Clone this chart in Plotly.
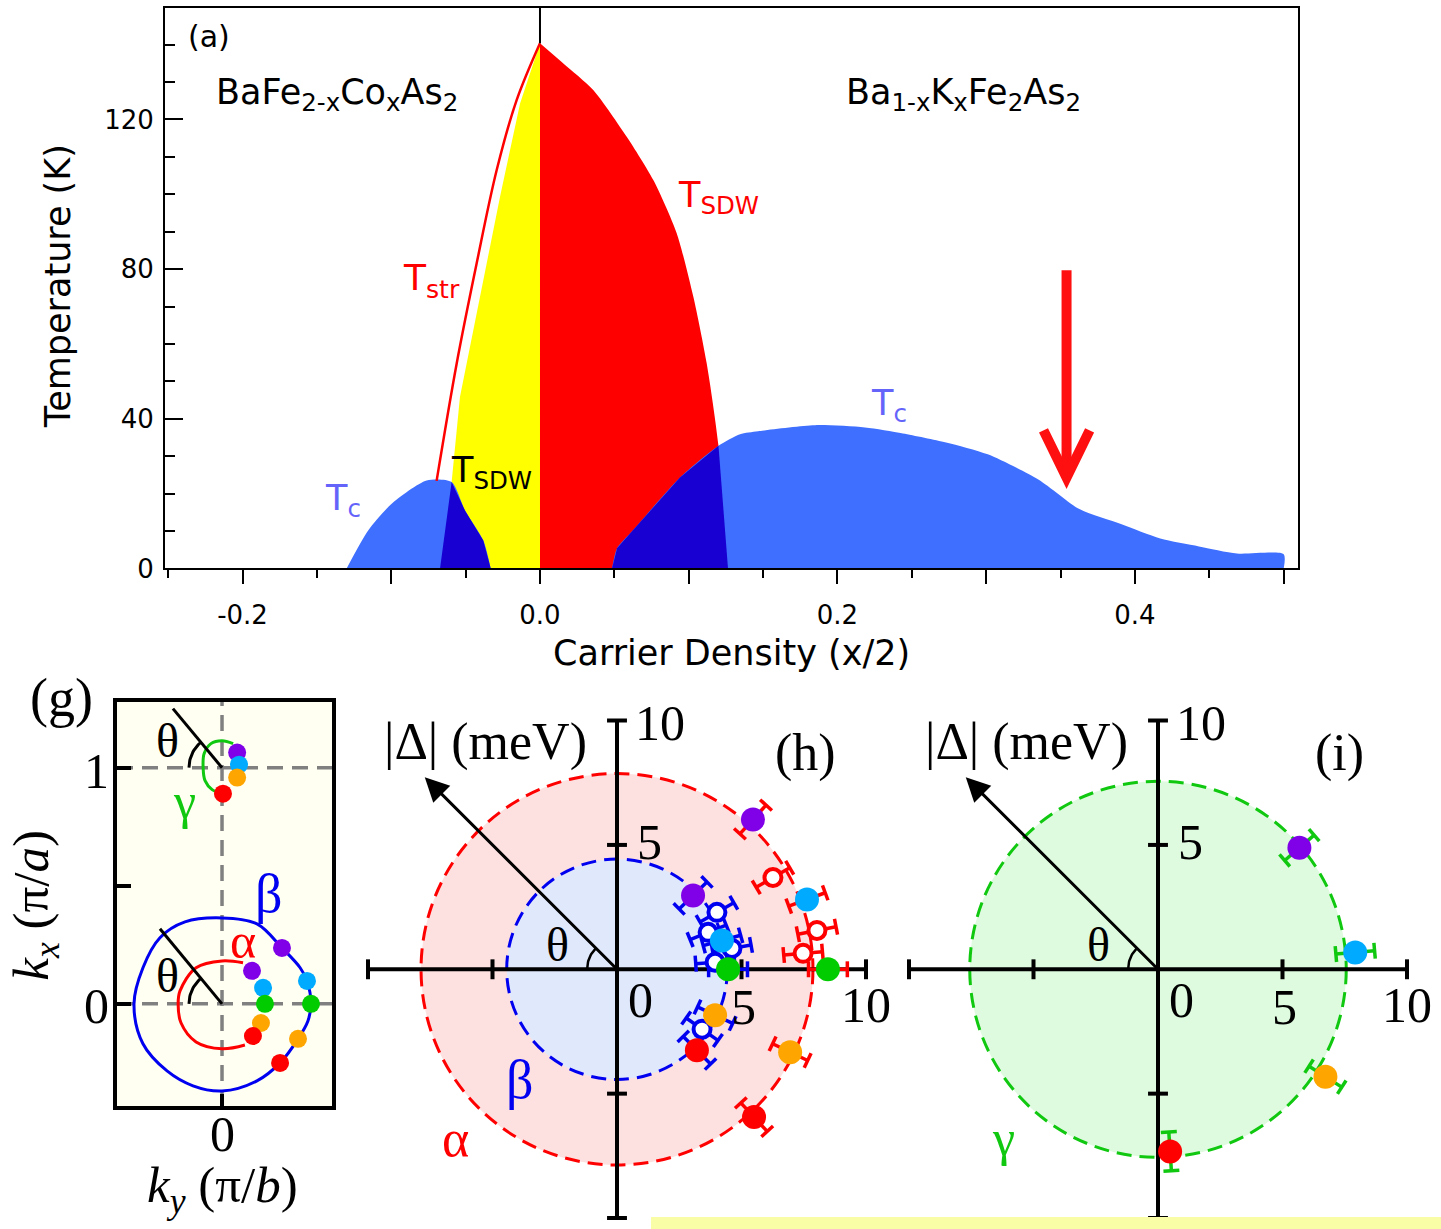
import numpy as np
import plotly.graph_objects as go

W, H = 1441, 1229          # design grid in pixels
H_LAYOUT = 1245            # figure height handed to plotly
SANS = "DejaVu Sans"
SERIF = "Liberation Serif"

RED = "#FF0000"
YELLOW = "#FFFF00"
LBLUE = "#3F6FFF"
DBLUE = "#1800D2"
TCCOL = "#6464FA"
PURPLE = "#8000E8"
CYAN = "#00AAFF"
GREEN = "#00CC00"
ORANGE = "#FFA500"
BLUE = "#0000F0"
GAMMA_GREEN = "#10C810"

# ---------------- (a) phase diagram: carrier density (x/2) vs T (K) ----------------
# Ba1-xKxFe2As2 side (hole doping, x/2 > 0)
sdw_k_x = [0.0, 0.0157, 0.0358, 0.0583, 0.0762, 0.0919, 0.1031, 0.1121, 0.1200, 0.1264]
sdw_k_T = [140.4, 135.0, 127.9, 115.4, 103.8, 89.6, 72.6, 54.8, 32.8, 0.0]
tc_k_x = [0.0484, 0.0518, 0.0625, 0.0941, 0.1200, 0.1345, 0.1466, 0.1849, 0.2185, 0.244,
          0.273, 0.301, 0.335, 0.363, 0.391, 0.417, 0.443, 0.4686, 0.500]
tc_k_T = [0.0, 5.4, 10.2, 24.3, 32.8, 35.9, 36.7, 38.3, 37.7, 36.1,
          33.7, 30.5, 23.8, 15.8, 11.8, 8.0, 5.9, 4.0, 3.8]

# BaFe2-xCoxAs2 side (electron doping, plotted at negative x/2)
tstr_co_x = [0.0, -0.0157, -0.0291, -0.0426, -0.0560, -0.0695]
tstr_co_T = [140.4, 125.2, 106.5, 81.5, 54.8, 23.4]
sdw_co_x = [0.0, -0.0134, -0.0269, -0.0403, -0.0538, -0.0594, -0.0672]
sdw_co_T = [140.4, 124.3, 99.3, 72.6, 45.8, 23.1, 0.0]
tc_co_x = [-0.130, -0.1154, -0.0997, -0.0762, -0.0594, -0.0504, -0.0381, -0.0331]
tc_co_T = [0.0, 10.2, 17.3, 23.5, 23.1, 15.5, 7.5, 0.0]

arrow_x = 0.354          # doping marked by the red arrow
arrow_T = [79.7, 24.3]   # shaft top, tip

# ---------------- (g) Fermi surface contours (ky, kx) ----------------
beta_fs_ky = [0.377, 0.360, 0.331, 0.254, 0.148, 0.0, -0.157, -0.263, -0.335, -0.373,
              -0.335, -0.233, -0.123, 0.0, 0.148, 0.246, 0.322, 0.364, 0.377]
beta_fs_kx = [0.0, 0.097, 0.153, 0.237, 0.339, 0.364, 0.347, 0.280, 0.153, 0.0,
              -0.169, -0.284, -0.347, -0.369, -0.326, -0.250, -0.148, -0.072, 0.0]
alpha_fs_ky = [0.089, 0.0, -0.110, -0.178, -0.186, -0.174, -0.110, 0.0, 0.097]
alpha_fs_kx = [0.174, 0.182, 0.153, 0.055, 0.0, -0.080, -0.161, -0.190, -0.174]
gamma_fs_ky = [0.047, 0.0, -0.047, -0.076, -0.080, -0.072, -0.042, 0.0]
gamma_fs_kx = [1.102, 1.114, 1.102, 1.059, 1.0, 0.945, 0.907, 0.890]

# measured k-points on each sheet
alpha_k_ky = [0.127, 0.174, 0.182, 0.165, 0.131]
alpha_k_kx = [0.140, 0.068, 0.0, -0.081, -0.136]
beta_k_ky = [0.254, 0.360, 0.377, 0.322, 0.246]
beta_k_kx = [0.237, 0.097, 0.0, -0.148, -0.250]
gamma_k_ky = [0.064, 0.072, 0.064, 0.004]
gamma_k_kx = [1.064, 1.013, 0.958, 0.890]

# ---------------- (h), (i) superconducting gap |Delta| vs FS angle theta ----------------
alpha_fill_theta = [47.8, 20.2, 0.0, -25.6, -47.2]
alpha_fill_gap = [8.13, 8.13, 8.47, 7.71, 8.10]
alpha_open_theta = [30.5, 11.0, 4.9]
alpha_open_gap = [7.27, 8.18, 7.50]
beta_fill_theta = [44.2, 15.4, 0.0, -25.1, -45.4]
beta_fill_gap = [4.26, 4.37, 4.46, 4.35, 4.57]
beta_open_theta = [29.7, 22.1, 10.3, 4.1, -35.2]
beta_open_gap = [4.62, 3.95, 4.69, 3.95, 4.18]
gamma_fill_theta = [40.7, 4.9, -32.7, -86.2]
gamma_fill_gap = [7.49, 7.95, 7.99, 7.34]
gap_err = 0.78

alpha_gap_avg = 7.87
beta_gap_avg = 4.43
gamma_gap_avg = 7.56

colors5 = [PURPLE, CYAN, GREEN, ORANGE, RED]
colors4 = [PURPLE, CYAN, ORANGE, RED]


def px(x):
    return x / W


def py(y):
    return 1 - y / H


fig = go.Figure()


def poly(xs, ys, color, xa="x", ya="y", shape="linear"):
    fig.add_trace(go.Scatter(x=list(xs), y=list(ys), mode="lines", fill="toself",
                             fillcolor=color, line=dict(width=0, color=color, shape=shape, smoothing=0.7),
                             hoverinfo="skip", showlegend=False, xaxis=xa, yaxis=ya))


def line(xs, ys, color, width, xa, ya, shape="linear", dash=None):
    fig.add_trace(go.Scatter(x=list(xs), y=list(ys), mode="lines",
                             line=dict(width=width, color=color, shape=shape, dash=dash),
                             hoverinfo="skip", showlegend=False, xaxis=xa, yaxis=ya))


# ---- (a) regions ----
# orthorhombic / SDW phase, Co side
poly(sdw_co_x + [0.0], sdw_co_T + [0.0], YELLOW)
# SDW phase, K side
poly(sdw_k_x + [0.0], sdw_k_T + [0.0], RED, shape="spline")
# superconducting domes
poly(tc_k_x + [tc_k_x[-1]], tc_k_T + [0.0], LBLUE, shape="spline")
poly(tc_co_x, tc_co_T, LBLUE, shape="spline")
# coexistence regions
xk_i, Tk_i = 0.1200, 32.8
dk_x = [x for x in tc_k_x if x <= xk_i] + [x for x, T in zip(sdw_k_x, sdw_k_T) if T < Tk_i]
dk_T = [T for x, T in zip(tc_k_x, tc_k_T) if x <= xk_i] + [T for T in sdw_k_T if T < Tk_i]
poly(dk_x, dk_T, DBLUE)
xc_i, Tc_i = -0.0594, 23.1
dc_x = [x for x in tc_co_x if x >= xc_i] + [x for x, T in zip(sdw_co_x, sdw_co_T) if T < Tc_i]
dc_T = [T for x, T in zip(tc_co_x, tc_co_T) if x >= xc_i] + [T for T in sdw_co_T if T < Tc_i]
poly(dc_x, dc_T, DBLUE)
# structural transition line
line(tstr_co_x, tstr_co_T, RED, 2.5, "x", "y", shape="spline")

# ---- (g) Fermi surface ----
line(beta_fs_ky, beta_fs_kx, BLUE, 3, "x2", "y2", shape="spline")
line(alpha_fs_ky, alpha_fs_kx, RED, 3, "x2", "y2", shape="spline")
line(gamma_fs_ky, gamma_fs_kx, GAMMA_GREEN, 3, "x2", "y2", shape="spline")
# theta definition lines and arcs
line([0, -0.263], [0, 0.318], "black", 3, "x2", "y2")
line([0, -0.208], [1.0, 1.25], "black", 3, "x2", "y2")
arc = np.radians(np.linspace(180, 131, 20))
line(0.14 * np.cos(arc), 0.14 * np.sin(arc), "black", 3, "x2", "y2")
line(0.14 * np.cos(arc), 1.0 + 0.14 * np.sin(arc), "black", 3, "x2", "y2")
for kys, kxs, cols in [(alpha_k_ky, alpha_k_kx, colors5), (beta_k_ky, beta_k_kx, colors5),
                       (gamma_k_ky, gamma_k_kx, colors4)]:
    fig.add_trace(go.Scatter(x=kys, y=kxs, mode="markers",
                             marker=dict(size=18, color=cols, line=dict(width=0)),
                             hoverinfo="skip", showlegend=False, xaxis="x2", yaxis="y2"))


# ---- (h), (i) polar gap plots on cartesian axes ----
def radial_bars(theta_deg, gap, err, cap=0.32):
    xs, ys = [], []
    for t, g in zip(theta_deg, gap):
        c, s = np.cos(np.radians(t)), np.sin(np.radians(t))
        r0, r1 = g - err, g + err
        xs += [r0 * c, r1 * c, None]
        ys += [r0 * s, r1 * s, None]
        for r in (r0, r1):
            xs += [r * c + cap * s, r * c - cap * s, None]
            ys += [r * s - cap * c, r * s + cap * c, None]
    return xs, ys


def to_xy(theta_deg, gap):
    t = np.radians(np.asarray(theta_deg))
    g = np.asarray(gap)
    return g * np.cos(t), g * np.sin(t)


def gap_panel(xa, ya, sets):
    # sets: (theta, gap, error-bar colour, marker colours or None for open symbols)
    for th, gp, ecol, _ in sets:
        bx, by = radial_bars(th, gp, gap_err)
        line(bx, by, ecol, 3.5, xa, ya)
    for th, gp, ecol, mcols in sets:
        x, y = to_xy(th, gp)
        if mcols is None:
            mk = dict(size=17, color="white", line=dict(width=4, color=ecol))
        else:
            mk = dict(size=24, color=mcols, line=dict(width=0))
        fig.add_trace(go.Scatter(x=x, y=y, mode="markers", marker=mk, hoverinfo="skip",
                                 showlegend=False, xaxis=xa, yaxis=ya))
    # theta arc
    a = np.radians(np.linspace(180, 135, 20))
    line(1.2 * np.cos(a), 1.2 * np.sin(a), "black", 2.5, xa, ya)


gap_panel("x3", "y3", [
    (beta_open_theta, beta_open_gap, BLUE, None),
    (beta_fill_theta, beta_fill_gap, BLUE, colors5),
    (alpha_open_theta, alpha_open_gap, RED, None),
    (alpha_fill_theta, alpha_fill_gap, RED, colors5),
])
gap_panel("x4", "y4", [
    (gamma_fill_theta, gamma_fill_gap, GAMMA_GREEN, colors4),
])

# ---------------- shapes ----------------
shapes = []
# (g) background and dashed guide lines
shapes.append(dict(type="rect", xref="x2 domain", yref="y2 domain", x0=0, x1=1, y0=0, y1=1,
                   fillcolor="#FFFFF2", line=dict(width=0), layer="below"))
for x0, x1, y0, y1 in [(0, 0, -0.432, 1.28), (-0.445, 0.466, 0, 0), (-0.445, 0.466, 1, 1)]:
    shapes.append(dict(type="line", xref="x2", yref="y2", x0=x0, x1=x1, y0=y0, y1=y1,
                       line=dict(color="#808080", width=3.5, dash="16px,9px"), layer="below"))

# (a) separator above the SDW maximum, and the arrow
shapes.append(dict(type="line", xref="x", yref="y", x0=0, x1=0, y0=sdw_k_T[0], y1=149.8,
                   line=dict(color="black", width=2)))
shapes.append(dict(type="line", xref="x", yref="y", x0=arrow_x, x1=arrow_x,
                   y0=arrow_T[0], y1=arrow_T[1] + 1.5, line=dict(color="#FF1010", width=10)))
shapes.append(dict(type="path", xref="x", yref="y",
                   path=f"M {arrow_x - 0.0155},{arrow_T[1] + 12.6} L {arrow_x},{arrow_T[1]} "
                        f"L {arrow_x + 0.0155},{arrow_T[1] + 12.6}",
                   line=dict(color="#FF1010", width=10)))

# (h), (i) average-gap circles and the cross axes
for xa, ya, circles in [("x3", "y3", [(alpha_gap_avg, "#FDE0E0", RED), (beta_gap_avg, "#E0E8FC", BLUE)]),
                        ("x4", "y4", [(gamma_gap_avg, "#DFFBDF", GAMMA_GREEN)])]:
    for r, fc, lc in circles:
        shapes.append(dict(type="circle", xref=xa, yref=ya, x0=-r, x1=r, y0=-r, y1=r,
                           fillcolor=fc, line=dict(color=lc, width=3, dash="15px,8px"), layer="below"))
    ax_line = dict(color="black", width=4)
    shapes.append(dict(type="line", xref=xa, yref=ya, x0=-10, x1=10, y0=0, y1=0, line=ax_line, layer="below"))
    shapes.append(dict(type="line", xref=xa, yref=ya, x0=0, x1=0, y0=-10, y1=10, line=ax_line, layer="below"))
    for v in (-10, -5, 5, 10):
        shapes.append(dict(type="line", xref=xa, yref=ya, x0=v, x1=v, y0=-0.4, y1=0.4, line=ax_line, layer="below"))
        shapes.append(dict(type="line", xref=xa, yref=ya, x0=-0.4, x1=0.4, y0=v, y1=v, line=ax_line, layer="below"))

# pale band along the bottom edge
shapes.append(dict(type="rect", xref="paper", yref="paper", x0=px(651), x1=1, y0=-0.05, y1=py(1216),
                   fillcolor="#F9FDA6", line=dict(width=0), layer="above"))

# ---------------- annotations ----------------
ann = []


def text_px(x, y, s, size, color="black", family=SANS, xanchor="center", angle=0):
    ann.append(dict(x=px(x), y=py(y), xref="paper", yref="paper", text=s, showarrow=False,
                    xanchor=xanchor, yanchor="middle", textangle=angle,
                    font=dict(family=family, size=size, color=color)))


def text_d(x, y, s, xa, ya, size, color="black", family=SERIF):
    ann.append(dict(x=x, y=y, xref=xa, yref=ya, text=s, showarrow=False,
                    xanchor="center", yanchor="middle", font=dict(family=family, size=size, color=color)))


# (a)
text_px(209, 36, "(a)", 30)
text_px(214, 94, "BaFe<sub>2-x</sub>Co<sub>x</sub>As<sub>2</sub>", 35, xanchor="left")
text_px(844, 94, "Ba<sub>1-x</sub>K<sub>x</sub>Fe<sub>2</sub>As<sub>2</sub>", 35, xanchor="left")
text_px(401, 280, "T<sub>str</sub>", 36, RED, xanchor="left")
text_px(676, 197, "T<sub>SDW</sub>", 35, RED, xanchor="left")
text_px(449, 472, "T<sub>SDW</sub>", 35, "black", xanchor="left")
text_px(323, 500, "T<sub>c</sub>", 35, TCCOL, xanchor="left")
text_px(869, 405, "T<sub>c</sub>", 35, TCCOL, xanchor="left")
text_px(58, 286, "Temperature (K)", 35, angle=-90)
text_px(731, 652, "Carrier Density (x/2)", 35)

# (g)
text_px(62, 697, "(g)", 54, family=SERIF)
text_px(35, 905, "<i>k</i><sub><i>x</i></sub> (π/<i>a</i>)", 51, family=SERIF, angle=-90)
text_px(222, 1188, "<i>k</i><sub><i>y</i></sub> (π/<i>b</i>)", 51, family=SERIF)
text_px(97, 770, "1", 50, family=SERIF)
text_px(97, 1005, "0", 50, family=SERIF)
text_px(222, 1133, "0", 50, family=SERIF)
text_d(-0.157, 0.86, "γ", "x2", "y2", 50, GAMMA_GREEN)
text_d(0.089, 0.267, "α", "x2", "y2", 50, RED)
text_d(0.195, 0.466, "β", "x2", "y2", 54, BLUE)
text_d(-0.233, 0.119, "θ", "x2", "y2", 48)
text_d(-0.229, 1.114, "θ", "x2", "y2", 48)

# (h), (i)
for xa, ya, lab, lx in [("x3", "y3", "(h)", 7.55), ("x4", "y4", "(i)", 7.28)]:
    text_d(1.72, 9.92, "10", xa, ya, 50)
    text_d(1.3, 5.1, "5", xa, ya, 50)
    text_d(0.94, -1.24, "0", xa, ya, 50)
    text_d(5.1, -1.5, "5", xa, ya, 50)
    text_d(10.0, -1.45, "10", xa, ya, 50)
    text_d(-5.3, 9.12, "|Δ| (meV)", xa, ya, 52)
    text_d(lx, 8.71, lab, xa, ya, 52)
    text_d(-2.4, 1.0, "θ", xa, ya, 48)
    ann.append(dict(x=-7.72, y=7.72, ax=0, ay=0, xref=xa, yref=ya, axref=xa, ayref=ya,
                    text="", showarrow=True, arrowhead=2, arrowsize=1.6, arrowwidth=3,
                    arrowcolor="black"))
text_d(-3.9, -4.46, "β", "x3", "y3", 54, BLUE)
text_d(-6.5, -6.8, "α", "x3", "y3", 52, RED)
text_d(-6.2, -6.8, "γ", "x4", "y4", 50, GAMMA_GREEN)

# ---------------- axes ----------------
U = 24.9  # pixels per meV in the gap panels
half = 261 / U
hidden = dict(visible=False, showgrid=False, zeroline=False)

fig.update_layout(
    width=W, height=H_LAYOUT, autosize=False,
    margin=dict(l=0, r=0, t=0, b=0),
    paper_bgcolor="white", plot_bgcolor="rgba(0,0,0,0)",
    showlegend=False,
    shapes=shapes, annotations=ann,
    xaxis=dict(domain=[px(165), px(1298)], range=[-0.2521, 0.5096], anchor="y",
               showline=True, linecolor="black", linewidth=2, mirror=True,
               ticks="outside", ticklen=14, tickwidth=2, tickcolor="black",
               tickvals=[-0.2, -0.1, 0.0, 0.1, 0.2, 0.3, 0.4, 0.5],
               ticktext=["-0.2", "", "0.0", "", "0.2", "", "0.4", ""],
               minor=dict(dtick=0.05, tick0=0, ticks="outside", ticklen=8, tickwidth=2, tickcolor="black"),
               tickfont=dict(family=SANS, size=26, color="black"), ticklabelstandoff=8,
               showgrid=False, zeroline=False),
    yaxis=dict(domain=[py(568), py(8)], range=[0, 149.8], anchor="x",
               showline=True, linecolor="black", linewidth=2, mirror=True,
               ticks="inside", ticklen=18, tickwidth=2, tickcolor="black", tick0=0, dtick=40,
               minor=dict(dtick=10, tick0=0, ticks="inside", ticklen=10, tickwidth=2, tickcolor="black"),
               tickfont=dict(family=SANS, size=26, color="black"), ticklabelstandoff=4,
               showgrid=False, zeroline=False),
    xaxis2=dict(domain=[px(117), px(332)], range=[-0.445, 0.466], anchor="y2",
                showline=True, linecolor="black", linewidth=4, mirror=True,
                ticks="inside", ticklen=12, tickwidth=4, tickcolor="black",
                tickvals=[0], showticklabels=False,
                showgrid=False, zeroline=False),
    yaxis2=dict(domain=[py(1105), py(701)], range=[-0.432, 1.28], anchor="x2",
                showline=True, linecolor="black", linewidth=4, mirror=True,
                ticks="inside", ticklen=14, tickwidth=4, tickcolor="black",
                tickvals=[0, 0.5, 1], showticklabels=False,
                showgrid=False, zeroline=False),
    xaxis3=dict(domain=[px(617 - 261), px(617 + 261)], range=[-half, half], anchor="y3", **hidden),
    yaxis3=dict(domain=[py(969 + 260), py(969 - 261)], range=[-half, half], anchor="x3", **hidden),
    xaxis4=dict(domain=[px(1158 - 261), px(1158 + 261)], range=[-half, half], anchor="y4", **hidden),
    yaxis4=dict(domain=[py(969 + 260), py(969 - 261)], range=[-half, half], anchor="x4", **hidden),
)

page_css = ("document.documentElement.style.margin='0';document.body.style.margin='0';"
            "document.documentElement.style.overflow='hidden';document.body.style.overflow='hidden';")
fig.write_html("out.html", post_script=page_css)
